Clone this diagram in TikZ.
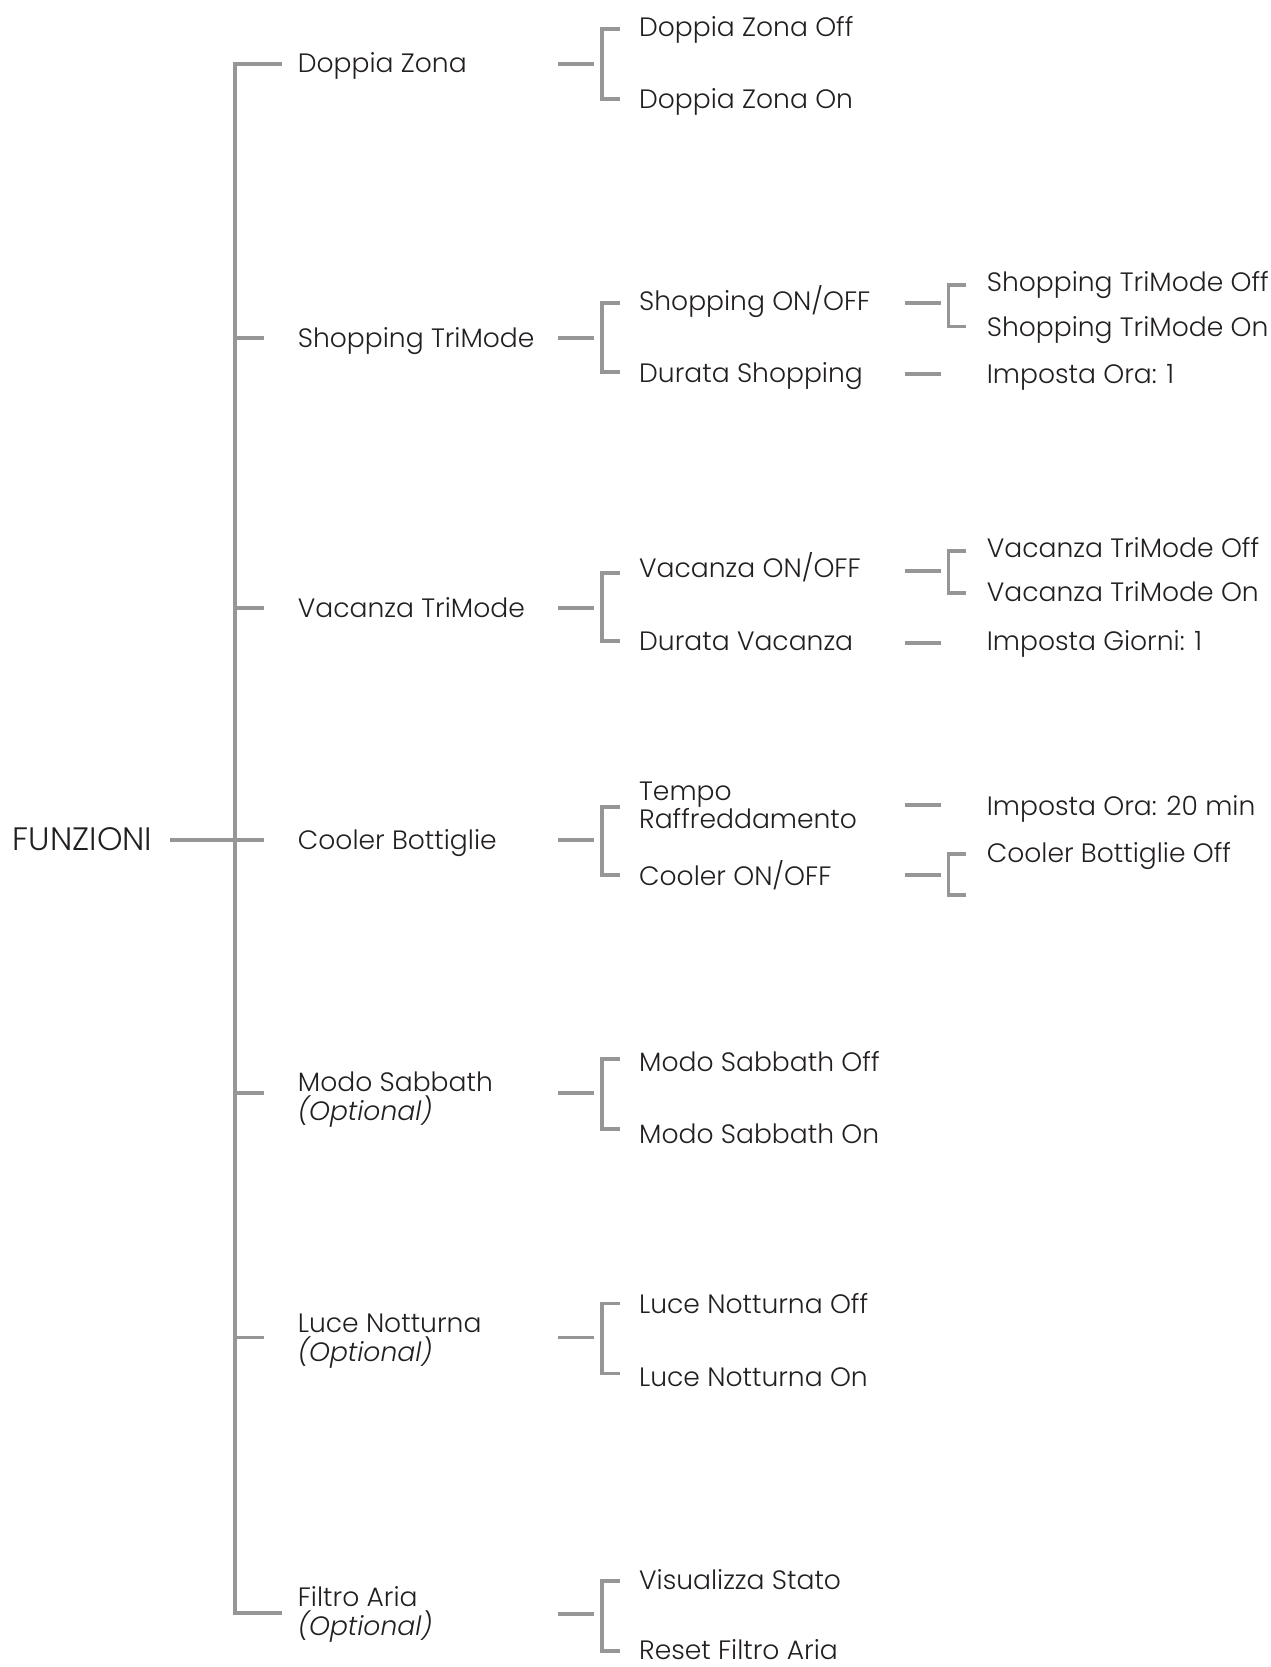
\documentclass[tikz,border=0pt]{standalone}
\usepackage{fontspec}
\setmainfont{Poppins Light}[ItalicFont={Poppins Light Italic}]
\usepackage{xcolor}
\usepackage{tikz}

\definecolor{wiregray}{RGB}{150,150,153}
\definecolor{inkgray}{RGB}{35,31,32}

\tikzset{
	wire/.style={draw=wiregray, line width=3.4pt},
	lbl/.style={anchor=base west, inner sep=0pt, yshift=-8.5pt, align=left},
}

% dash from the parent, then the bracket to the two children
\newcommand{\fork}[4]{%
	\draw[wire] (#1,#2) -- (#1+34,#2);
	\draw[wire] (#1+58,#3) -| (#1+41,#4) -- (#1+58,#4);
}

\begin{document}
\begin{tikzpicture}[x=1pt, y=-1pt, text=inkgray, font=\fontsize{25}{27}\selectfont]
		\useasboundingbox (0,0) rectangle (1195,1568);

		\node[lbl, font=\fontsize{30.5}{31}\selectfont, yshift=-1.8pt] (root) at (12,790) {FUNZIONI};

		\draw[wire] (265,60) -| (221,1517) -- (265,1517);
		\draw[wire] (160,790) -- (248,790);
		\draw[wire] (221,318) -- (248,318);
		\draw[wire] (221,572) -- (248,572);
		\draw[wire] (221,1028) -- (248,1028);
		\draw[wire] (221,1258) -- (248,1258);

		% two-line labels sit on the baseline of their last line
		\node[lbl] (dz) at (280,60) {Doppia Zona};
		\node[lbl] (st) at (280,318) {Shopping TriMode};
		\node[lbl] (vt) at (280,572) {Vacanza TriMode};
		\node[lbl] (cb) at (280,791) {Cooler Bottiglie};
		\node[lbl] (ms) at (280,1045) {Modo Sabbath\\\textit{(Optional)}};
		\node[lbl] (ln) at (280,1272) {Luce Notturna\\\textit{(Optional)}};
		\node[lbl] (fa) at (280,1530) {Filtro Aria\\\textit{(Optional)}};

		\fork{525}{60}{27}{93}
		\fork{525}{318}{285}{350}
		\fork{525}{572}{539}{603}
		\fork{525}{790}{759}{823}
		\fork{525}{1028}{996}{1062}
		\fork{525}{1258}{1226}{1292}
		\fork{525}{1518}{1487}{1553}

		\node[lbl] (dzoff) at (601,26) {Doppia Zona Off};
		\node[lbl] (dzon) at (601,94) {Doppia Zona On};
		\node[lbl] (sonoff) at (601,284) {Shopping ON/OFF};
		\node[lbl] (sdur) at (601,351) {Durata Shopping};
		\node[lbl] (vonoff) at (601,535) {Vacanza ON/OFF};
		\node[lbl] (vdur) at (601,603) {Durata Vacanza};
		\node[lbl] (tr) at (601,771) {Tempo\\Raffreddamento};
		\node[lbl] (conoff) at (601,824) {Cooler ON/OFF};
		\node[lbl] (msoff) at (601,999) {Modo Sabbath Off};
		\node[lbl] (mson) at (601,1067) {Modo Sabbath On};
		\node[lbl] (lnoff) at (601,1227) {Luce Notturna Off};
		\node[lbl] (lnon) at (601,1296) {Luce Notturna On};
		\node[lbl] (fastato) at (601,1487) {Visualizza Stato};
		\node[lbl] (fareset) at (601,1552) {Reset Filtro Aria};

		\fork{851}{285}{268}{307}
		\fork{851}{537}{518}{558}
		\fork{851}{823}{803}{842}
		\draw[wire] (851,352) -- (885,352);
		\draw[wire] (851,605) -- (885,605);
		\draw[wire] (851,757) -- (885,757);

		\node[lbl] (stoff) at (928,266) {Shopping TriMode Off};
		\node[lbl] (ston) at (928,308) {Shopping TriMode On};
		\node[lbl] (sora) at (928,352) {Imposta Ora: 1};
		\node[lbl] (vtoff) at (928,516) {Vacanza TriMode Off};
		\node[lbl] (vton) at (928,557) {Vacanza TriMode On};
		\node[lbl] (vgiorni) at (928,603) {Imposta Giorni: 1};
		\node[lbl] (tora) at (928,759) {Imposta Ora: 20 min};
		\node[lbl] (cboff) at (928,803) {Cooler Bottiglie Off};
\end{tikzpicture}
\end{document}
